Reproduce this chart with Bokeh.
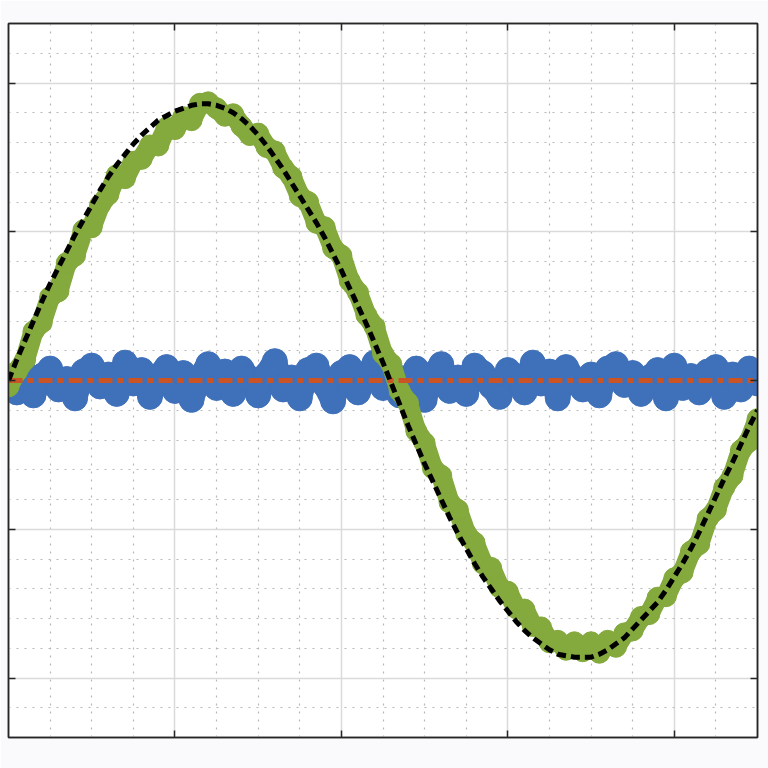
from bokeh.plotting import figure
from bokeh.models import LinearAxis, FixedTicker, Range1d
from bokeh.embed import file_html
from bokeh.resources import INLINE

# sample positions (0.05 steps over 0 .. 4.5)
x = [round(i * 0.05, 2) for i in range(91)]

# reference (black dashed) sine
ref = [0.00, 0.14, 0.27, 0.40, 0.53, 0.65, 0.76, 0.87, 0.98, 1.08,
       1.18, 1.28, 1.37, 1.45, 1.52, 1.59, 1.65, 1.70, 1.75, 1.78,
       1.81, 1.83, 1.85, 1.86, 1.86, 1.85, 1.83, 1.80, 1.76, 1.71,
       1.65, 1.58, 1.50, 1.42, 1.33, 1.24, 1.15, 1.06, 0.96, 0.85,
       0.74, 0.62, 0.50, 0.38, 0.25, 0.12, -0.02, -0.16, -0.30, -0.43,
       -0.56, -0.68, -0.80, -0.92, -1.03, -1.13, -1.23, -1.32, -1.40, -1.48,
       -1.55, -1.62, -1.68, -1.73, -1.77, -1.81, -1.84, -1.85, -1.86, -1.86,
       -1.86, -1.84, -1.81, -1.77, -1.73, -1.67, -1.61, -1.55, -1.49, -1.41,
       -1.32, -1.23, -1.13, -1.02, -0.90, -0.78, -0.66, -0.55, -0.43, -0.31,
       -0.20]

# noisy measured signal (green)
meas = [-0.04, 0.06, 0.14, 0.33, 0.39, 0.56, 0.60, 0.79, 0.84, 1.01,
        1.03, 1.18, 1.25, 1.38, 1.36, 1.47, 1.49, 1.58, 1.58, 1.70,
        1.69, 1.77, 1.75, 1.86, 1.87, 1.83, 1.78, 1.79, 1.71, 1.65,
        1.66, 1.57, 1.54, 1.43, 1.37, 1.24, 1.20, 1.06, 1.03, 0.89,
        0.84, 0.67, 0.59, 0.44, 0.36, 0.18, 0.11, -0.07, -0.15, -0.34,
        -0.42, -0.59, -0.64, -0.82, -0.87, -1.03, -1.09, -1.23, -1.26, -1.39,
        -1.42, -1.53, -1.54, -1.65, -1.66, -1.76, -1.75, -1.81, -1.76, -1.82,
        -1.76, -1.83, -1.75, -1.79, -1.70, -1.68, -1.59, -1.57, -1.46, -1.45,
        -1.33, -1.29, -1.15, -1.10, -0.93, -0.87, -0.72, -0.64, -0.47, -0.41,
        -0.26]

# noisy error signal around zero (blue)
err = [0.02, -0.08, 0.05, -0.10, 0.03, 0.08, -0.06, 0.01, -0.12, 0.06,
       0.10, -0.04, 0.04, -0.09, 0.12, -0.02, 0.07, -0.11, 0.03, 0.09,
       -0.07, 0.05, -0.13, 0.02, 0.11, -0.05, 0.06, -0.09, 0.08, 0.01,
       -0.10, 0.04, 0.13, -0.06, 0.02, -0.12, 0.07, 0.10, -0.03, -0.14,
       0.05, 0.09, -0.08, 0.03, 0.12, -0.05, 0.06, -0.10, 0.01, 0.08,
       -0.13, 0.04, 0.11, -0.07, 0.02, -0.09, 0.10, 0.05, -0.04, -0.11,
       0.07, 0.03, -0.08, 0.12, -0.02, 0.06, -0.12, 0.09, 0.01, -0.06,
       0.04, -0.10, 0.08, 0.11, -0.03, 0.05, -0.09, 0.02, 0.07, -0.12,
       0.10, -0.05, 0.03, -0.08, 0.06, 0.09, -0.11, 0.04, -0.06, 0.08,
       -0.02]

# zero reference (orange dash-dot)
zero = [0.0 for _ in x]

x_major = [1, 2, 3, 4]
y_major = [-2, -1, 0, 1, 2]

p = figure(width=768, height=768, output_backend="svg", toolbar_location=None,
           x_range=Range1d(0, 4.5), y_range=Range1d(-2.4, 2.4),
           min_border_left=8, min_border_right=11, min_border_top=23,
           min_border_bottom=31,
           background_fill_color="white", border_fill_color="#fafafd",
           outline_line_color="#262626", outline_line_width=1.5)

x_minor = [i * 0.25 for i in range(19) if i % 4 != 0]
y_minor = [-2.4 + i * 0.2 for i in range(25) if i % 5 != 2]
xt = FixedTicker(ticks=x_major, minor_ticks=x_minor)
yt = FixedTicker(ticks=y_major, minor_ticks=y_minor)

p.xaxis.ticker = xt
p.yaxis.ticker = yt
p.add_layout(LinearAxis(ticker=xt), "above")
p.add_layout(LinearAxis(ticker=yt), "right")

for ax in p.axis:
    ax.major_label_text_font_size = "0px"
    ax.major_label_text_color = None
    ax.major_label_standoff = 0
    ax.major_tick_in = 7
    ax.major_tick_out = 0
    ax.minor_tick_in = 0
    ax.minor_tick_out = 0
    ax.axis_line_color = "#262626"
    ax.axis_line_width = 1.5
    ax.major_tick_line_color = "#262626"
    ax.major_tick_line_width = 1.5

for g in (p.xgrid, p.ygrid):
    g.grid_line_color = "#dadada"
    g.grid_line_width = 1.5
    g.minor_grid_line_color = "#b8b8b8"
    g.minor_grid_line_dash = "2 6"
    g.minor_grid_line_width = 1.2
p.xgrid.ticker = xt
p.ygrid.ticker = yt

blue = "#3F70BA"
green = "#84A93D"
orange = "#CB5425"

p.line(x, err, line_width=24, color=blue, line_join="round", line_cap="round")
p.scatter(x, err, size=25, color=blue, line_color=blue)
p.line(x, meas, line_width=20, color=green, line_join="round", line_cap="round")
p.scatter(x, meas, size=21, color=green, line_color=green)
p.line(x, zero, line_width=5, color=orange, line_dash="14 5 6 5")
p.line(x, ref, line_width=5, color="black", line_dash="9 5")

open("out.html", "w").write(file_html(p, INLINE))
